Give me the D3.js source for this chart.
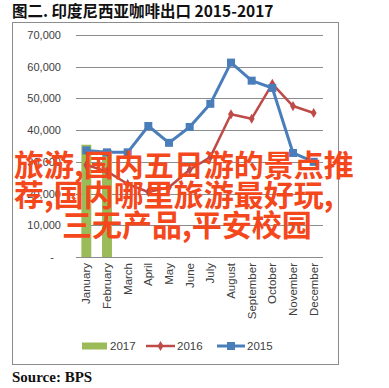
<!DOCTYPE html>
<html><head><meta charset="utf-8">
<script src="https://cdn.jsdelivr.net/npm/d3@7"></script>
<style>body{margin:0;background:#fff}svg{display:block}</style>
</head><body>
<svg id="c" width="389" height="388"></svg>
<script>
const months = ["January","February","March","April","May","June","July","August","September","October","November","December"];
const s2017 = [35400, 33800, null, null, null, null, null, null, null, null, null, null];
const s2016 = [29000, 27000, 23000, 20500, 22000, 27500, 31500, 45000, 43600, 54600, 47600, 45400];
const s2015 = [33600, 33000, 33000, 41300, 36000, 41000, 48300, 61300, 55600, 53300, 32800, 30000];
const yTicks = [0, 10000, 20000, 30000, 40000, 50000, 60000, 70000];
const legendNames = ["2017", "2016", "2015"];
const titleText = "图二. 印度尼西亚咖啡出口 2015-2017";
const sourceText = "Source: BPS";
const overlayLines = ["旅游,国内五日游的景点推", "荐,国内哪里旅游最好玩,", "三无产品,平安校园"];

const svg = d3.select("#c");
const C = {bar:"#9bbb59", red:"#be4b48", blue:"#4a7ebb", grid:"#8c8c8c", txt:"#404040"};

// title
svg.append("text").attr("x", 12).attr("y", 17)
  .attr("font-family", "'Noto Sans CJK SC', serif").attr("font-weight", "bold")
  .attr("font-size", 15.5).attr("fill", "#111").text(titleText);

// frame
svg.append("rect").attr("x", 12.5).attr("y", 22.5).attr("width", 326).attr("height", 342)
  .attr("fill", "none").attr("stroke", "#8c8c8c").attr("stroke-width", 1);

const x = d3.scaleBand().domain(months).range([76, 324]).paddingInner(0.52).paddingOuter(0.26);
const y = d3.scaleLinear().domain([0, 70000]).range([257, 35]);
const cx = m => x(m) + x.bandwidth() / 2;

// grid
svg.append("g").selectAll("line").data(yTicks).join("line")
  .attr("x1", 76).attr("x2", 323).attr("y1", d => Math.round(y(d)) + 0.5).attr("y2", d => Math.round(y(d)) + 0.5)
  .attr("stroke", C.grid).attr("stroke-width", 1);

// y labels
const fmt = d3.format(",");
svg.append("g").selectAll("text").data(yTicks).join("text")
  .attr("x", d => d === 0 ? 54 : 61).attr("y", d => y(d) + 4)
  .attr("text-anchor", "end").attr("font-family", "'Liberation Sans', Arial, sans-serif")
  .attr("font-size", 11).attr("fill", C.txt)
  .text(d => d === 0 ? "-" : fmt(d));

// x labels
svg.append("g").selectAll("text").data(months).join("text")
  .attr("transform", d => `translate(${cx(d) + 4},263) rotate(-90)`)
  .attr("text-anchor", "end").attr("font-family", "'Liberation Sans', Arial, sans-serif")
  .attr("font-size", 11.5).attr("fill", C.txt).text(d => d);

// bars 2017
svg.append("g").selectAll("rect").data(months.map((m, i) => ({m, v: s2017[i]})).filter(d => d.v != null)).join("rect")
  .attr("x", d => x(d.m)).attr("width", x.bandwidth())
  .attr("y", d => y(d.v)).attr("height", d => y(0) - y(d.v)).attr("fill", C.bar);

const line = d3.line().x(d => cx(d.m)).y(d => y(d.v));

// 2016 line
const d16 = months.map((m, i) => ({m, v: s2016[i]}));
svg.append("path").datum(d16).attr("d", line).attr("fill", "none").attr("stroke", C.red).attr("stroke-width", 2.5).attr("stroke-linejoin", "round");
svg.append("g").selectAll("path").data(d16).join("path")
  .attr("d", d3.symbol(d3.symbolDiamond, 30)())
  .attr("transform", d => `translate(${cx(d.m)},${y(d.v)})`).attr("fill", C.red);

// 2015 line
const d15 = months.map((m, i) => ({m, v: s2015[i]}));
svg.append("path").datum(d15).attr("d", line).attr("fill", "none").attr("stroke", C.blue).attr("stroke-width", 3).attr("stroke-linejoin", "round");
svg.append("g").selectAll("rect").data(d15).join("rect")
  .attr("x", d => cx(d.m) - 4).attr("y", d => y(d.v) - 4).attr("width", 8).attr("height", 8).attr("fill", C.blue);

// legend
const lg = svg.append("g").attr("font-family", "'Liberation Sans', Arial, sans-serif").attr("font-size", 11.5).attr("fill", C.txt);
lg.append("rect").attr("x", 82).attr("y", 342.5).attr("width", 25).attr("height", 7).attr("fill", C.bar);
lg.append("text").attr("x", 110).attr("y", 350).text(legendNames[0]);
lg.append("line").attr("x1", 146).attr("x2", 175).attr("y1", 346).attr("y2", 346).attr("stroke", C.red).attr("stroke-width", 2.5);
lg.append("path").attr("d", d3.symbol(d3.symbolDiamond, 30)()).attr("transform", "translate(160.5,346)").attr("fill", C.red);
lg.append("text").attr("x", 177).attr("y", 350).text(legendNames[1]);
lg.append("line").attr("x1", 217).attr("x2", 245).attr("y1", 346).attr("y2", 346).attr("stroke", C.blue).attr("stroke-width", 3);
lg.append("rect").attr("x", 227).attr("y", 342).attr("width", 8).attr("height", 8).attr("fill", C.blue);
lg.append("text").attr("x", 247).attr("y", 350).text(legendNames[2]);

// source
svg.append("text").attr("x", 12).attr("y", 382)
  .attr("font-family", "'Liberation Serif', 'Times New Roman', serif").attr("font-weight", "bold")
  .attr("font-size", 15).attr("fill", "#111").text(sourceText);

// overlay text
const ov = svg.append("g").attr("font-family", "'Noto Sans CJK SC', sans-serif").attr("font-weight", "bold")
  .attr("font-size", 30).attr("fill", "#f4481c");
ov.selectAll("text").data(overlayLines).join("text")
  .attr("x", (d, i) => i === 2 ? 62 : 14).attr("y", (d, i) => 176 + i * 30).text(d => d);
</script>
</body></html>
